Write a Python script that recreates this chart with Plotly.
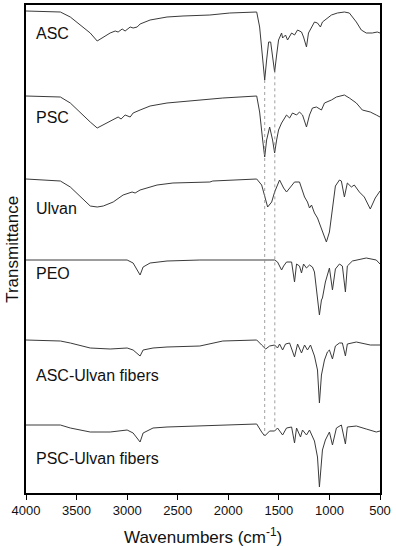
import numpy as np
import plotly.graph_objects as go

# FTIR spectra, wavenumber (cm-1) vs relative transmittance (a.u., 0 = start of trace)
asc_wn = [4000, 3660, 3562, 3463, 3365, 3296, 3266, 3168, 3118, 3089, 3049, 3020, 2970, 2941, 2901, 2872,
          2773, 2606, 2448, 2281, 2182, 1985, 1719, 1690, 1660, 1640, 1621, 1601, 1581, 1562, 1542, 1522,
          1503, 1473, 1463, 1434, 1414, 1374, 1345, 1315, 1276, 1256, 1227, 1207, 1177, 1148, 1118, 1089,
          1069, 1020, 980, 921, 852, 803, 734, 685, 636, 576, 527, 500]
asc_t = [0, -1, -6, -14, -22, -30, -28, -22, -20, -21, -18, -20, -16, -17, -16, -13,
         -9, -6, -5, -4, -4, -2, -1, -16, -49, -69, -49, -31, -31, -49, -61, -44,
         -29, -22, -27, -24, -29, -22, -24, -19, -21, -26, -36, -22, -16, -11, -12, -16,
         -11, -7, -4, -2, -1, -2, -11, -19, -22, -22, -21, -22]

psc_wn = [4000, 3660, 3562, 3463, 3365, 3296, 3236, 3138, 3089, 3060, 3020, 2970, 2941, 2872, 2773, 2606,
          2281, 2054, 1719, 1690, 1660, 1640, 1621, 1591, 1562, 1542, 1522, 1503, 1473, 1444, 1424, 1394,
          1365, 1325, 1296, 1266, 1227, 1197, 1168, 1128, 1079, 1049, 980, 931, 852, 803, 734, 675, 596,
          537, 500]
psc_t = [0, -1, -7, -17, -26, -32, -29, -24, -21, -23, -19, -21, -17, -14, -10, -7,
         -4, -2, 0, -16, -44, -61, -44, -31, -44, -57, -44, -34, -27, -22, -19, -22,
         -17, -19, -16, -19, -31, -19, -12, -11, -14, -7, -4, -1, 1, -2, -7, -14, -16,
         -19, -21]

ulvan_wn = [4000, 3660, 3562, 3463, 3365, 3296, 3236, 3138, 3040, 2951, 2921, 2872, 2704, 2547, 2281, 2182,
            2153, 1985, 1719, 1670, 1640, 1611, 1571, 1542, 1493, 1453, 1424, 1394, 1345, 1296, 1246, 1217,
            1197, 1177, 1148, 1118, 1079, 1049, 1030, 1000, 970, 941, 901, 882, 852, 823, 783, 754, 704,
            655, 596, 547, 500]
ulvan_t = [0, -2, -8, -18, -27, -28, -27, -23, -16, -13, -14, -11, -6, -4, -3, -3,
           -2, -1, 0, -6, -18, -28, -23, -13, -1, -9, -13, -9, -3, -3, -18, -23,
           -29, -26, -34, -39, -50, -59, -63, -53, -28, -7, -1, -2, -18, -4, -8, -6, -13,
           -18, -30, -19, -12]

peo_wn = [4000, 3000, 2941, 2901, 2872, 2842, 2773, 2606, 2281, 1542, 1513, 1473, 1453, 1424, 1374, 1345,
          1325, 1296, 1276, 1256, 1227, 1197, 1168, 1148, 1118, 1099, 1079, 1069, 1040, 1000, 970, 941,
          901, 872, 842, 823, 773, 636, 537, 500]
peo_t = [0, 0, -3, -10, -15, -7, -3, -1, 0, 0, -2, -10, -6, -2, -2, -22,
         -4, -6, -13, -4, -8, -5, -7, -12, -35, -55, -40, -38, -22, -8, -30, -9,
         -4, -6, -32, -6, -1, 2, 0, -4]

asc_ulvan_wn = [4000, 3660, 3562, 3365, 3168, 3000, 2941, 2901, 2872, 2842, 2744, 2606, 2281, 2054, 1719, 1670,
                1630, 1591, 1542, 1513, 1493, 1463, 1434, 1394, 1345, 1315, 1276, 1246, 1217, 1187, 1148, 1118,
                1099, 1079, 1069, 1049, 1020, 1000, 970, 941, 901, 872, 842, 823, 734, 596, 500]
asc_ulvan_t = [0, -1, -3, -8, -9, -8, -10, -13, -16, -10, -8, -7, -6, -1, 0, -5,
               -9, -6, -5, -8, -4, -10, -4, -3, -17, -4, -13, -5, -10, -5, -16, -30,
               -63, -35, -30, -20, -12, -10, -19, -6, -3, -3, -16, -4, -2, -5, -5]

psc_ulvan_wn = [4000, 3660, 3562, 3365, 3168, 3000, 2941, 2901, 2872, 2842, 2744, 2606, 2281, 1719, 1670, 1640,
                1591, 1542, 1513, 1463, 1424, 1374, 1345, 1325, 1286, 1266, 1227, 1197, 1148, 1118, 1099, 1079,
                1069, 1040, 1000, 970, 931, 882, 842, 823, 734, 636, 537, 500]
psc_ulvan_t = [0, 0, -3, -7, -7, -5, -8, -13, -17, -8, -3, -2, -1, 1, -7, -11,
               -6, -6, -3, -10, -3, -2, -18, -3, -12, -5, -10, -5, -16, -32, -62, -37,
               -25, -15, -7, -20, -3, 0, -19, -2, -1, -4, -7, -6]

names = ["ASC", "PSC", "Ulvan", "PEO", "ASC-Ulvan fibers", "PSC-Ulvan fibers"]
wavenumbers = [asc_wn, psc_wn, ulvan_wn, peo_wn, asc_ulvan_wn, psc_ulvan_wn]
transmittance = [asc_t, psc_t, ulvan_t, peo_t, asc_ulvan_t, psc_ulvan_t]
offsets = [482, 397, 314, 233, 153, 68]
label_y = [460, 376, 285, 220, 118, 35]
amide_bands = [1640, 1540]

fig = go.Figure()
for wn, t, off in zip(wavenumbers, transmittance, offsets):
    fig.add_trace(go.Scatter(x=wn, y=np.array(t) + off, mode="lines",
                             line=dict(color="#3a3a3a", width=1), showlegend=False))

# dotted guide lines through amide I / II bands
for band in amide_bands:
    y_top = np.interp(band, asc_wn[::-1], asc_t[::-1]) + offsets[0]
    y_bot = np.interp(band, psc_ulvan_wn[::-1], psc_ulvan_t[::-1]) + offsets[-1]
    fig.add_trace(go.Scatter(x=[band, band], y=[y_top, y_bot], mode="lines",
                             line=dict(color="#888", width=0.8, dash="dot"), showlegend=False))

for name, ly in zip(names, label_y):
    fig.add_annotation(text=name, x=3925, y=ly, xanchor="left", yanchor="middle",
                       showarrow=False, font=dict(size=16, color="#111"))

# axis titles
fig.add_annotation(text="Wavenumbers (cm<sup>-1</sup>)", xref="paper", yref="paper", x=0.5, y=-0.088,
                   xanchor="center", yanchor="middle", showarrow=False, font=dict(size=17, color="#111"))
fig.add_annotation(text="Transmittance", xref="paper", yref="paper", x=-0.04, y=0.5, textangle=-90,
                   xanchor="center", yanchor="middle", showarrow=False, font=dict(size=17, color="#111"))

fig.update_layout(
    width=396, height=550,
    margin=dict(l=26, r=16, t=5, b=57),
    plot_bgcolor="white", paper_bgcolor="white",
    font=dict(family="Liberation Sans, Arial, sans-serif", color="#111"),
)
fig.update_xaxes(range=[4000, 500], tickvals=[4000, 3500, 3000, 2500, 2000, 1500, 1000, 500],
                 ticks="outside", ticklen=5, tickcolor="black", tickfont=dict(size=13),
                 showline=True, mirror=True, linecolor="black", linewidth=1.5,
                 showgrid=False, zeroline=False, automargin=False)
fig.update_yaxes(range=[0, 488], showticklabels=False, ticks="",
                 showline=True, mirror=True, linecolor="black", linewidth=1.5,
                 showgrid=False, zeroline=False, automargin=False)

# page body has a default margin; remove it so the figure sits at the window corner
fig.write_html("out.html", config={"displayModeBar": False},
               post_script="document.body.style.margin='0px';")
